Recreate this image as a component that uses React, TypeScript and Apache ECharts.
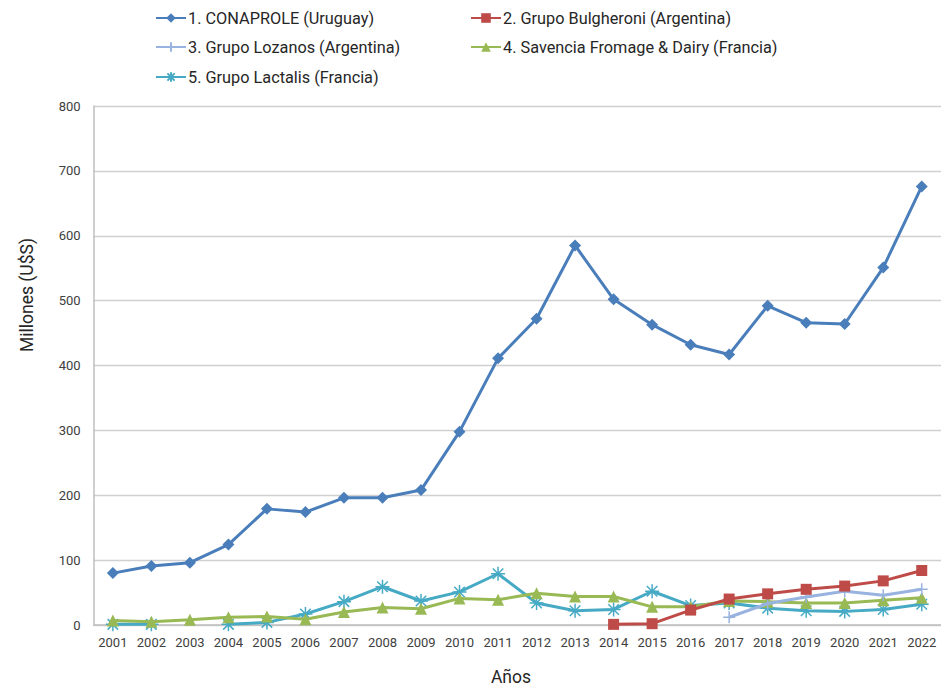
import React, { useEffect, useRef } from "react";
import * as echarts from "echarts";

const years = ["2001","2002","2003","2004","2005","2006","2007","2008","2009","2010","2011","2012","2013","2014","2015","2016","2017","2018","2019","2020","2021","2022"];
const conaprole = [80, 91, 96, 124, 179, 174, 196, 196, 208, 298, 411, 472, 585, 502, 463, 432, 417, 492, 466, 464, 551, 676];
const bulgheroni = [null, null, null, null, null, null, null, null, null, null, null, null, null, 1, 2, 23, 40, 48, 55, 60, 68, 84];
const lozanos = [null, null, null, null, null, null, null, null, null, null, null, null, null, null, null, null, 12, 33, 43, 52, 46, 55];
const savencia = [7, 5, 8, 12, 13, 9, 20, 27, 25, 41, 39, 49, 44, 44, 28, 28, 37, 36, 34, 34, 38, 42];
const lactalis = [1, 1, null, 1, 4, 17, 36, 59, 37, 51, 79, 34, 22, 24, 52, 30, 34, 26, 22, 21, 24, 32];
const yTicks = { min: 0, max: 800, interval: 100 };

const names = [
  "1. CONAPROLE (Uruguay)",
  "2. Grupo Bulgheroni (Argentina)",
  "3. Grupo Lozanos (Argentina)",
  "4. Savencia Fromage & Dairy (Francia)",
  "5. Grupo Lactalis (Francia)",
];
const colors = ["#4a7ebb", "#be4b48", "#98b3e0", "#98b954", "#46aac5"];
const yTitle = "Millones (U$S)";
const xTitle = "Años";

const FONT = "Roboto";

export default function App() {
  const ref = useRef<HTMLDivElement>(null);
  useEffect(() => {
    if (!ref.current) return;
    const chart = echarts.init(ref.current, null, { renderer: "svg" });
    const mk = (i: number, data: any[], symbol: string, size: number, stroke = false) => ({
      name: names[i],
      type: "line",
      data,
      symbol,
      symbolSize: size,
      connectNulls: false,
      lineStyle: { color: colors[i], width: 3 },
      itemStyle: stroke
        ? { color: colors[i], borderColor: colors[i], borderWidth: 1.5 }
        : { color: colors[i], borderWidth: 0 },
      emphasis: { disabled: true },
      z: 10 - i,
    });
    const legendPos = [
      { left: 155, top: 10 },
      { left: 470, top: 10 },
      { left: 155, top: 39 },
      { left: 470, top: 39 },
      { left: 155, top: 69 },
    ];
    chart.setOption({
      animation: false,
      color: colors,
      legend: names.map((n, i) => ({
        data: [n],
        ...legendPos[i],
        itemWidth: 30,
        itemHeight: 12,
        itemGap: 2,
        textStyle: { fontFamily: FONT, fontSize: 16.3, color: "#262626", padding: [0, 0, 0, -3] },
        padding: 0,
      })),
      grid: { left: 93.6, right: -4.4, top: 106, bottom: 62, containLabel: false },
      xAxis: {
        type: "category",
        data: years,
        boundaryGap: true,
        axisLine: { lineStyle: { color: "#bfbfbf", width: 1.5 } },
        axisTick: { show: false },
        axisLabel: { fontFamily: FONT, fontSize: 13, color: "#404040", margin: 11 },
      },
      yAxis: {
        type: "value",
        ...yTicks,
        axisLine: { show: true, lineStyle: { color: "#bfbfbf", width: 1.5 } },
        axisTick: { show: false },
        splitLine: { lineStyle: { color: "#d0d0d0", width: 1.3 } },
        axisLabel: { fontFamily: FONT, fontSize: 13, color: "#404040", margin: 13 },
      },
      graphic: [
        {
          type: "text",
          x: 27,
          y: 295,
          rotation: Math.PI / 2,
          style: { text: yTitle, fontFamily: FONT, fontSize: 17.5, fill: "#262626", align: "center", verticalAlign: "middle" },
        },
        {
          type: "text",
          x: 511,
          y: 677,
          style: { text: xTitle, fontFamily: FONT, fontSize: 17.5, fill: "#262626", align: "center", verticalAlign: "middle" },
        },
      ],
      series: [
        mk(0, conaprole, "diamond", 12),
        mk(1, bulgheroni, "rect", 11),
        mk(2, lozanos, "path://M0,-1L0,1M-1,0L1,0", 12, true),
        mk(3, savencia, "triangle", 12),
        mk(4, lactalis, "path://M0,-1L0,1M-1,0L1,0M-0.75,-0.75L0.75,0.75M-0.75,0.75L0.75,-0.75", 14, true),
      ],
    });
    return () => chart.dispose();
  }, []);
  return <div ref={ref} style={{ width: 941, height: 687, position: "absolute", left: 0, top: 0 }} />;
}
